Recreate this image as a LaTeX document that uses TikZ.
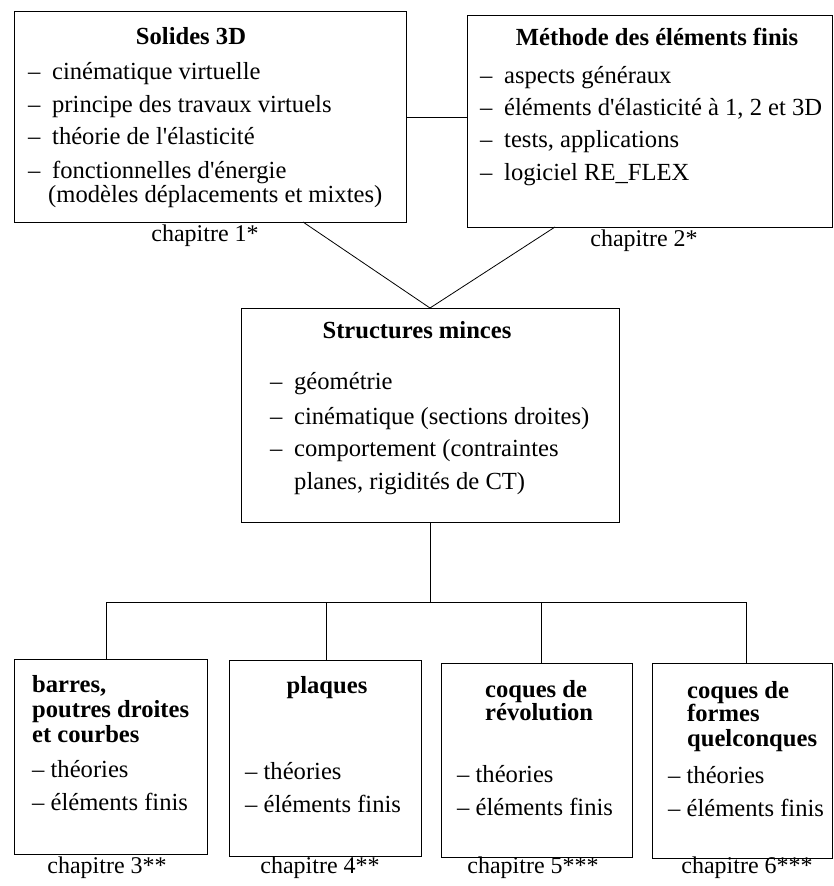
\documentclass[tikz,border=0pt]{standalone}
\usepackage{fontspec}
\setmainfont{Liberation Serif}
\begin{document}
\begin{tikzpicture}[x=1pt,y=-1pt,
  box/.style={draw, line width=0.8pt, inner sep=0pt, outer sep=0pt},
  txt/.style={font=\fontsize{24.6}{24.6}\selectfont, inner sep=0pt, anchor=mid west},
  ttl/.style={font=\fontsize{24.6}{24.6}\selectfont\bfseries, inner sep=0pt, anchor=mid},
  ttlw/.style={font=\fontsize{24.6}{24.6}\selectfont\bfseries, inner sep=0pt, anchor=mid west},
  chap/.style={font=\fontsize{24}{24}\selectfont, inner sep=0pt, anchor=mid},
  link/.style={line width=0.8pt}]
\useasboundingbox (0,0) rectangle (834,886);
\newcommand{\itm}[1]{\makebox[24pt][l]{–}#1}
\newcommand{\apo}{\textquotesingle}
% boxes
\node[box, minimum width=392pt, minimum height=211pt] (sol) at (210,116.5) {};
\node[box, minimum width=365pt, minimum height=212pt] (mef) at (649.5,121) {};
\node[box, minimum width=378pt, minimum height=214pt] (sm) at (430,415) {};
\node[box, minimum width=193pt, minimum height=195pt] (b1) at (110.5,756.5) {};
\node[box, minimum width=192pt, minimum height=196pt] (b2) at (325,758) {};
\node[box, minimum width=191pt, minimum height=194pt] (b3) at (536.5,760) {};
\node[box, minimum width=180pt, minimum height=195pt] (b4) at (742,760.5) {};
% box 1 text
\node[ttl] (t1) at (191,42) {Solides 3D};
\node[txt] (t1a) at (28,77) {\itm{cinématique virtuelle}};
\node[txt] (t1b) at (28,110) {\itm{principe des travaux virtuels}};
\node[txt] (t1c) at (28,142) {\itm{théorie de l\apo élasticité}};
\node[txt] (t1d) at (28,176) {\itm{fonctionnelles d\apo énergie}};
\node[txt] (t1e) at (48,200) {(modèles déplacements et mixtes)};
\node[chap] (c1) at (205,239) {chapitre 1*};
% box 2 text
\node[ttl] (t2) at (657,43) {Méthode des éléments finis};
\node[txt] (t2a) at (480,81) {\itm{aspects généraux}};
\node[txt] (t2b) at (480,113) {\itm{éléments d\apo élasticité à 1, 2 et 3D}};
\node[txt] (t2c) at (480,145) {\itm{tests, applications}};
\node[txt] (t2d) at (480,178) {\itm{logiciel RE\_FLEX}};
\node[chap] (c2) at (644,244) {chapitre 2*};
% box 3 text
\node[ttl] (t3) at (417,336) {Structures minces};
\node[txt] (t3a) at (270,387) {\itm{géométrie}};
\node[txt] (t3b) at (270,422) {\itm{cinématique (sections droites)}};
\node[txt] (t3c) at (270,454) {\itm{comportement (contraintes}};
\node[txt] (t3d) at (294,487) {planes, rigidités de CT)};
% bottom boxes
\node[ttlw] (u1a) at (32,690) {barres,};
\node[ttlw] (u1b) at (32,715) {poutres droites};
\node[ttlw] (u1c) at (32,740) {et courbes};
\node[txt] (u1d) at (32,775) {– théories};
\node[txt] (u1e) at (32,808) {– éléments finis};
\node[chap] (c3) at (107,871) {chapitre 3**};
\node[ttl] (u2a) at (327,691) {plaques};
\node[txt] (u2d) at (245,777) {– théories};
\node[txt] (u2e) at (245,810) {– éléments finis};
\node[chap] (c4) at (320,871) {chapitre 4**};
\node[ttlw] (u3a) at (485,695) {coques de};
\node[ttlw] (u3b) at (485,718) {révolution};
\node[txt] (u3d) at (457,780) {– théories};
\node[txt] (u3e) at (457,813) {– éléments finis};
\node[chap] (c5) at (533,871) {chapitre 5***};
\node[ttlw] (u4a) at (687,696) {coques de};
\node[ttlw] (u4b) at (687,719) {formes};
\node[ttlw] (u4c) at (687,744) {quelconques};
\node[txt] (u4d) at (668,781) {– théories};
\node[txt] (u4e) at (668,814) {– éléments finis};
\node[chap] (c6) at (747,871) {chapitre 6***};
% connectors
\coordinate (s1) at (303,222);
\coordinate (s2) at (555,227);
\draw[link] (sol.east |- 0,117) -- (mef.west |- 0,117);
\draw[link] (s1) -- (sm.north) -- (s2);
\coordinate (j) at (430,602);
\coordinate (j1) at (106,602);
\coordinate (j2) at (326,602);
\coordinate (j3) at (541,602);
\coordinate (j4) at (746,602);
\draw[link] (sm.south) -- (j);
\draw[link] (j1) -- (j4);
\draw[link] (j1) -- (j1 |- b1.north);
\draw[link] (j2) -- (j2 |- b2.north);
\draw[link] (j3) -- (j3 |- b3.north);
\draw[link] (j4) -- (j4 |- b4.north);
\end{tikzpicture}
\end{document}
